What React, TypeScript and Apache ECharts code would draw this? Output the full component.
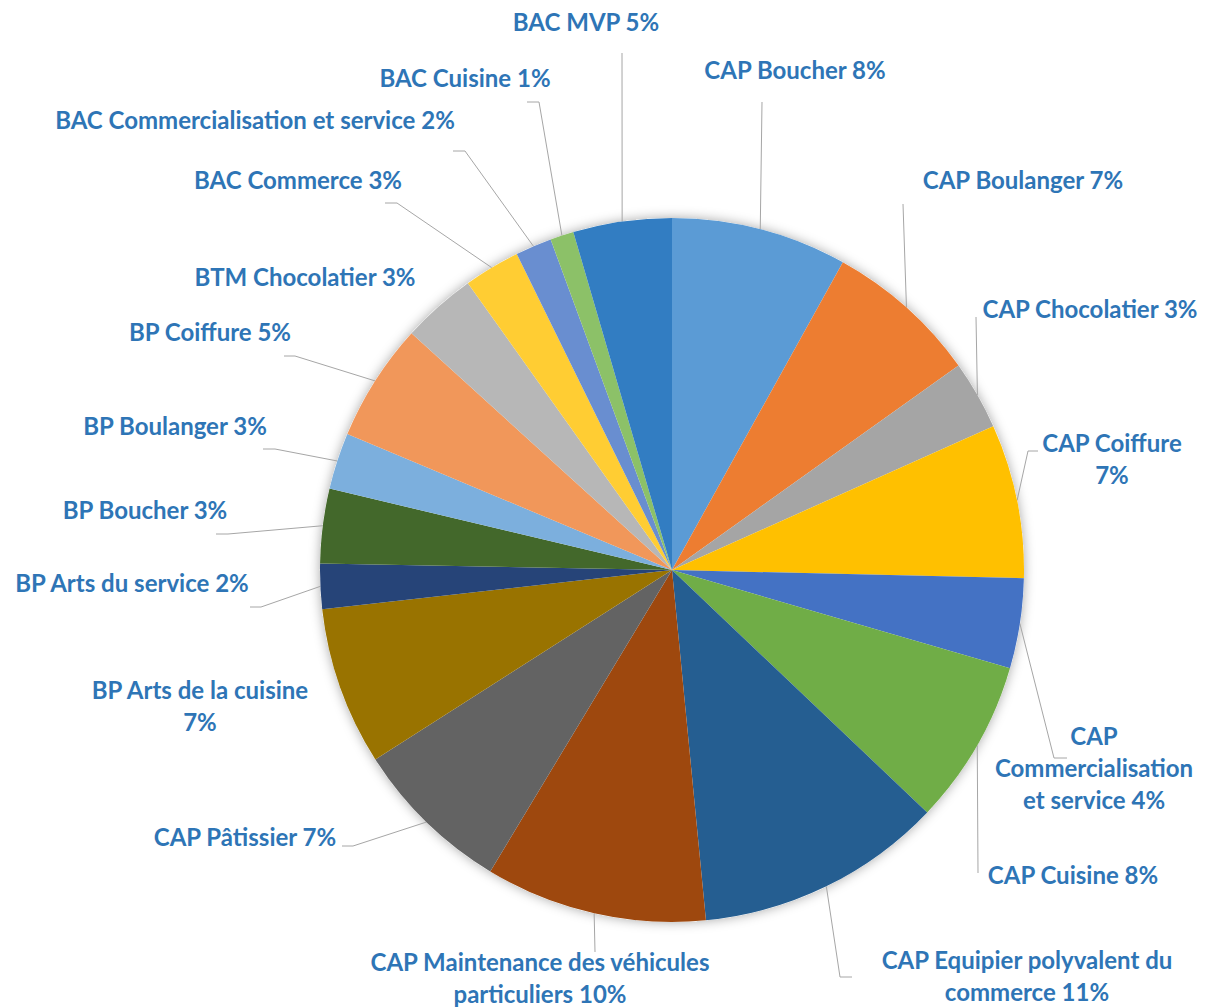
import React, { useEffect, useRef } from "react";
import * as echarts from "echarts";

const CATEGORIES: string[] = [
  "CAP Boucher",
  "CAP Boulanger",
  "CAP Chocolatier",
  "CAP Coiffure",
  "CAP Commercialisation et service",
  "CAP Cuisine",
  "CAP Equipier polyvalent du commerce",
  "CAP Maintenance des véhicules particuliers",
  "CAP Pâtissier",
  "BP Arts de la cuisine",
  "BP Arts du service",
  "BP Boucher",
  "BP Boulanger",
  "BP Coiffure",
  "BTM Chocolatier",
  "BAC Commerce",
  "BAC Commercialisation et service",
  "BAC Cuisine",
  "BAC MVP",
];

const VALUES: number[] = [
  8.08, 7.08, 3.17, 7.08, 4.14, 7.6, 11.39, 10.19, 7.33, 7.28, 2.08, 3.42, 2.6,
  5.44, 3.42, 2.58, 1.67, 1.08, 4.53,
];

const COLORS: string[] = [
  "#5B9BD5", "#ED7D31", "#A5A5A5", "#FFC000", "#4472C4", "#70AD47", "#255E91",
  "#9E480E", "#636363", "#997300", "#264478", "#43682B", "#7CAFDD", "#F1975A",
  "#B7B7B7", "#FFCD33", "#698ED0", "#8CC168", "#327DC2",
];

// word indexes after which the label wraps onto a new line
const BREAK_AFTER: Record<number, number[]> = {
  3: [2],
  4: [1, 2],
  6: [4],
  7: [4],
  9: [5],
};

// label centres (layout)
const LABEL_POS: [number, number][] = [
  [795, 69], [1023, 179], [1090, 308], [1112, 458], [1094, 767], [1073, 874],
  [1027, 975], [540, 977], [245, 836], [200, 705], [132, 582], [145, 509],
  [175, 425], [210, 331], [305, 276], [298, 179], [255, 119], [465, 77],
  [586, 21],
];

// leader line elbow / end points (layout)
const LINE_PTS: ([number, number][] | null)[] = [
  [[762, 102]],
  [[903, 204]],
  [[976, 317]],
  [[1028, 451], [1038, 451]],
  [[1054, 758], [1067, 758]],
  [[978, 873]],
  [[840, 977], [852, 977]],
  [[595, 952]],
  [[353, 846], [342, 846]],
  null,
  [[261, 607], [250, 607]],
  [[228, 534], [216, 534]],
  [[275, 449], [263, 449]],
  [[295, 356], [284, 356]],
  null,
  [[397, 203], [385, 203]],
  [[465, 151], [453, 151]],
  [[539, 102], [527, 102]],
  [[622, 53]],
];

const TOTAL = VALUES.reduce((a, b) => a + b, 0);

function labelText(i: number, name: string, value: number): string {
  const pct = Math.round((value / TOTAL) * 100);
  const words = `${name} ${pct}%`.split(" ");
  const breaks = BREAK_AFTER[i] || [];
  let out = "";
  words.forEach((w, k) => {
    if (k > 0) out += breaks.includes(k) ? "\n" : " ";
    out += w;
  });
  return out;
}

export default function App() {
  const ref = useRef<HTMLDivElement>(null);
  useEffect(() => {
    if (!ref.current) return;
    const chart = echarts.init(ref.current, undefined, { renderer: "svg" });
    const data = CATEGORIES.map((name, i) => ({
      name,
      value: VALUES[i],
      itemStyle: { color: COLORS[i] },
    }));
    chart.setOption({
      animation: false,
      backgroundColor: "#ffffff",
      series: [
        {
          type: "pie",
          silent: true,
          center: [672, 570],
          radius: [0, 352],
          z: 1,
          data: [{ value: 1, name: "" }],
          label: { show: false },
          labelLine: { show: false },
          itemStyle: {
            color: "#ffffff",
            shadowBlur: 12,
            shadowColor: "rgba(0,0,0,0.35)",
          },
        },
        {
          type: "pie",
          z: 2,
          center: [672, 570],
          radius: [0, 352],
          startAngle: 90,
          clockwise: true,
          avoidLabelOverlap: false,
          data,
          itemStyle: { borderWidth: 0 },
          label: {
            show: true,
            position: "outside",
            formatter: (p: any) => labelText(p.dataIndex, p.name, p.value),
            fontFamily: "Lato",
            fontWeight: "bold",
            fontSize: 24,
            lineHeight: 32,
            color: "#2E75B6",
            align: "center",
          },
          labelLine: {
            show: true,
            length: 20,
            length2: 10,
            smooth: false,
            lineStyle: { color: "#A6A6A6", width: 1 },
          },
          labelLayout: (params: any) => {
            const i = params.dataIndex;
            const [x, y] = LABEL_POS[i];
            const start = params.labelLinePoints
              ? params.labelLinePoints[0]
              : [x, y];
            const pts = LINE_PTS[i];
            let linePts;
            if (pts) {
              linePts = [start, pts[0], pts[1] || pts[0]];
            } else {
              linePts = [start, start, start];
            }
            return {
              x,
              y,
              align: "center",
              verticalAlign: "middle",
              labelLinePoints: linePts,
            };
          },
        },
      ],
    });
    return () => chart.dispose();
  }, []);
  return (
    <div
      ref={ref}
      style={{ position: "absolute", left: 0, top: 0, width: 1208, height: 1007 }}
    />
  );
}
